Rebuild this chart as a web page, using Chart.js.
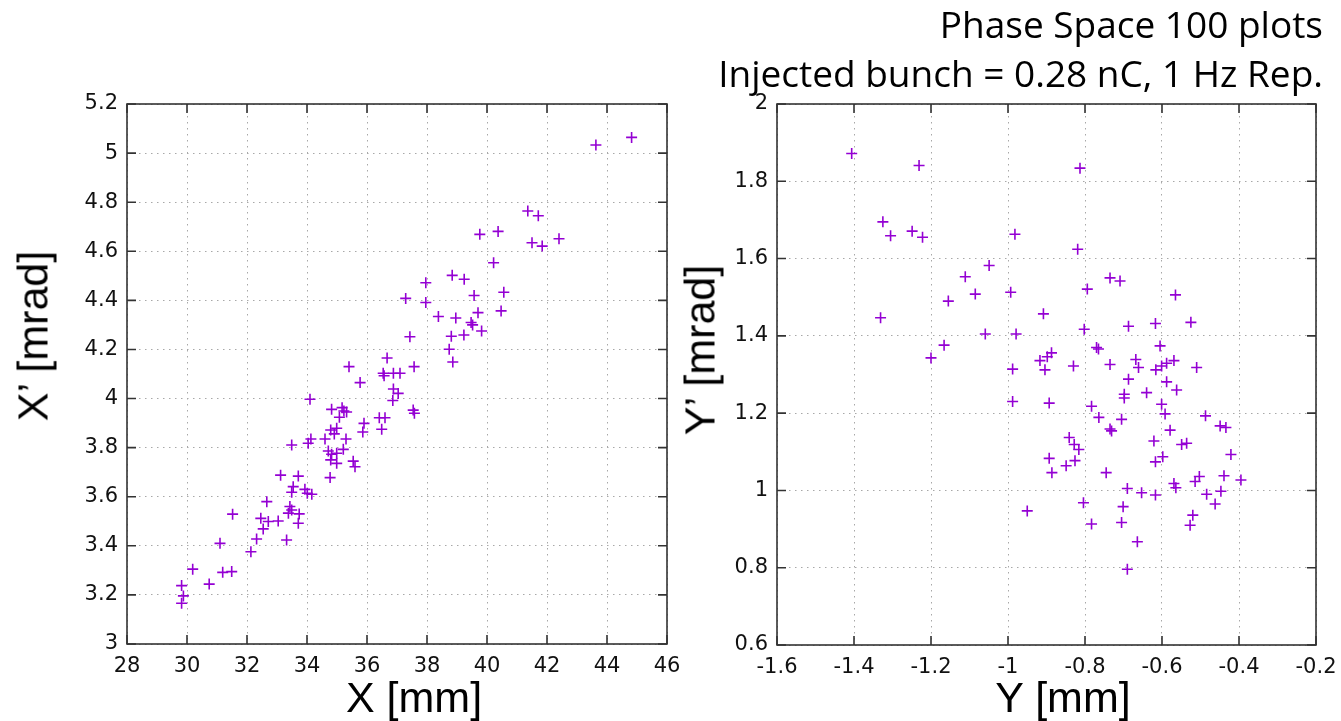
<!DOCTYPE html>
<html>
<head>
<meta charset="utf-8">
<script src="https://cdn.jsdelivr.net/npm/chart.js@4.4.1/dist/chart.umd.min.js"></script>
<style>
  html, body { margin: 0; padding: 0; background: #fff; }
  body { width: 1341px; height: 721px; position: relative; overflow: hidden; }
  .box { position: absolute; top: 0; height: 721px; }
  .txt { position: absolute; white-space: nowrap; color: #000; }
  .title { right: 18px; font-family: "Open Sans", sans-serif; font-size: 37px; line-height: 49px; }
  .axis { font-family: "Liberation Sans", Arial, sans-serif; font-size: 43px; line-height: 43px;
          transform: translate(-50%, -50%); }
  .axis.rot { transform: translate(-50%, -50%) rotate(-90deg); }
</style>
</head>
<body>
<div class="box" style="left:0;width:680px"><canvas id="chartX" width="680" height="721"></canvas></div>
<div class="box" style="left:680px;width:661px"><canvas id="chartY" width="661" height="721"></canvas></div>

<div class="txt title" style="top:-1px">Phase Space 100 plots</div>
<div class="txt title" style="top:48px">Injected bunch = 0.28 nC, 1 Hz Rep.</div>
<div class="txt axis" style="left:414px;top:697px">X [mm]</div>
<div class="txt axis rot" style="left:33px;top:336px">X’ [mrad]</div>
<div class="txt axis" style="left:1063px;top:697px">Y [mm]</div>
<div class="txt axis rot" style="left:700px;top:350px">Y’ [mrad]</div>

<script>
// horizontal plane: X [mm] and X' [mrad]
const xPos = [
  44.82, 43.63, 41.36, 41.71, 39.76, 40.37, 41.50, 41.84, 42.40, 40.22,
  38.84, 39.24, 37.96, 37.29, 37.96, 39.57, 40.56, 40.47, 39.70, 38.38,
  38.96, 39.47, 39.52, 39.82, 39.23, 38.81, 37.43, 38.74, 38.86, 36.67,
  37.57, 36.54, 36.57, 36.88, 37.10, 36.88, 37.04, 36.86, 37.54, 37.58,
  36.41, 36.60, 36.49, 35.40, 35.77, 34.10, 34.82, 35.17, 35.23, 35.32,
  35.08, 35.90, 35.86, 34.79, 34.99, 34.91, 34.60, 35.30, 34.13, 34.04,
  33.49, 34.71, 34.82, 34.99, 35.21, 34.79, 34.99, 35.54, 35.60, 34.77,
  33.12, 33.71, 33.93, 34.01, 34.16, 33.54, 33.49, 33.43, 33.49, 33.38,
  33.74, 33.71, 33.32, 32.66, 32.46, 32.71, 33.04, 32.54, 32.32, 32.13,
  31.52, 31.10, 31.19, 31.49, 30.74, 30.19, 29.82, 29.88, 29.82
];
const xAngle = [
  5.064, 5.033, 4.764, 4.745, 4.669, 4.681, 4.635, 4.621, 4.651, 4.553,
  4.502, 4.486, 4.472, 4.408, 4.391, 4.420, 4.433, 4.357, 4.350, 4.334,
  4.328, 4.310, 4.300, 4.275, 4.259, 4.254, 4.252, 4.201, 4.149, 4.165,
  4.130, 4.103, 4.093, 4.103, 4.103, 4.039, 4.021, 3.992, 3.953, 3.940,
  3.922, 3.922, 3.875, 4.130, 4.065, 3.997, 3.956, 3.963, 3.949, 3.945,
  3.924, 3.899, 3.864, 3.872, 3.879, 3.856, 3.835, 3.835, 3.835, 3.818,
  3.811, 3.786, 3.773, 3.777, 3.793, 3.750, 3.736, 3.745, 3.722, 3.678,
  3.688, 3.684, 3.630, 3.614, 3.610, 3.641, 3.618, 3.560, 3.546, 3.533,
  3.530, 3.492, 3.424, 3.580, 3.512, 3.499, 3.501, 3.469, 3.428, 3.376,
  3.529, 3.410, 3.292, 3.295, 3.244, 3.305, 3.238, 3.196, 3.166
];

// vertical plane: Y [mm] and Y' [mrad]
const yPos = [
  -1.406, -1.231, -1.325, -1.305, -1.249, -1.222, -0.982, -1.049, -1.111, -1.085,
  -1.155, -0.993, -1.331, -1.059, -0.979, -1.166, -1.200, -0.988, -0.988, -0.950,
  -0.813, -0.819, -0.735, -0.709, -0.794, -0.565, -0.908, -0.525, -0.617, -0.687,
  -0.802, -0.605, -0.770, -0.765, -0.887, -0.898, -0.917, -0.904, -0.830, -0.735,
  -0.668, -0.661, -0.569, -0.588, -0.601, -0.616, -0.510, -0.687, -0.588, -0.562,
  -0.640, -0.698, -0.698, -0.893, -0.783, -0.601, -0.592, -0.764, -0.705, -0.487,
  -0.449, -0.434, -0.735, -0.731, -0.579, -0.841, -0.828, -0.816, -0.621, -0.549,
  -0.536, -0.421, -0.893, -0.826, -0.849, -0.598, -0.617, -0.745, -0.886, -0.503,
  -0.514, -0.439, -0.395, -0.569, -0.564, -0.690, -0.653, -0.617, -0.447, -0.484,
  -0.804, -0.462, -0.701, -0.520, -0.527, -0.783, -0.705, -0.664, -0.690
];
const yAngle = [
  1.872, 1.841, 1.695, 1.659, 1.671, 1.655, 1.663, 1.582, 1.553, 1.508,
  1.490, 1.513, 1.447, 1.405, 1.405, 1.376, 1.343, 1.314, 1.230, 0.947,
  1.834, 1.624, 1.550, 1.542, 1.521, 1.506, 1.457, 1.435, 1.432, 1.425,
  1.417, 1.374, 1.370, 1.366, 1.356, 1.346, 1.336, 1.312, 1.322, 1.326,
  1.339, 1.318, 1.336, 1.329, 1.322, 1.312, 1.318, 1.288, 1.281, 1.260,
  1.253, 1.249, 1.239, 1.226, 1.218, 1.223, 1.198, 1.189, 1.184, 1.193,
  1.167, 1.163, 1.159, 1.154, 1.156, 1.137, 1.119, 1.106, 1.128, 1.119,
  1.122, 1.093, 1.083, 1.077, 1.064, 1.087, 1.074, 1.046, 1.046, 1.036,
  1.023, 1.038, 1.027, 1.018, 1.007, 1.005, 0.994, 0.988, 0.998, 0.990,
  0.968, 0.965, 0.958, 0.936, 0.910, 0.913, 0.917, 0.867, 0.796
];

// tick values
const xTicks = [28, 30, 32, 34, 36, 38, 40, 42, 44, 46];
const xpTicks = [3, 3.2, 3.4, 3.6, 3.8, 4, 4.2, 4.4, 4.6, 4.8, 5, 5.2];
const yTicks = [-1.6, -1.4, -1.2, -1, -0.8, -0.6, -0.4, -0.2];
const ypTicks = [0.6, 0.8, 1, 1.2, 1.4, 1.6, 1.8, 2];

const PURPLE = "#9400d3";

// gnuplot-like frame with inward tick marks on all four sides
const frameTicks = {
  id: "frameTicks",
  afterDraw(chart) {
    const { ctx, chartArea: a, scales } = chart;
    const len = 9;
    ctx.save();
    ctx.strokeStyle = "#333";
    ctx.lineWidth = 1.6;
    ctx.beginPath();
    scales.x.ticks.forEach(function (t) {
      const px = scales.x.getPixelForValue(t.value);
      ctx.moveTo(px, a.bottom);
      ctx.lineTo(px, a.bottom - len);
      ctx.moveTo(px, a.top);
      ctx.lineTo(px, a.top + len);
    });
    scales.y.ticks.forEach(function (t) {
      const py = scales.y.getPixelForValue(t.value);
      ctx.moveTo(a.left, py);
      ctx.lineTo(a.left + len, py);
      ctx.moveTo(a.right, py);
      ctx.lineTo(a.right - len, py);
    });
    ctx.stroke();
    ctx.strokeRect(a.left, a.top, a.right - a.left, a.bottom - a.top);
    ctx.restore();
  },
};

function makeScale(min, max, tickVals, size, horizontal) {
  return {
    type: "linear",
    min: min,
    max: max,
    afterBuildTicks: function (s) {
      s.ticks = tickVals.map(function (v) { return { value: v }; });
    },
    afterFit: function (s) {
      if (horizontal) s.height = size;
      else s.width = size;
      s.paddingLeft = 0;
      s.paddingRight = 0;
      s.paddingTop = 0;
      s.paddingBottom = 0;
    },
    grid: {
      color: "#a8a8a8",
      lineWidth: 1,
      drawTicks: false,
    },
    border: {
      display: false,
      dash: [1.5, 4.5],
    },
    ticks: {
      color: "#111",
      padding: horizontal ? 10 : 9,
      font: { family: "DejaVu Sans", size: 21 },
      callback: function (value) {
        return String(+value.toFixed(1));
      },
    },
  };
}

function makeChart(id, xs, ys, xScale, yScale, padRight) {
  const points = xs.map(function (v, i) { return { x: v, y: ys[i] }; });
  return new Chart(document.getElementById(id), {
    type: "scatter",
    data: {
      datasets: [
        {
          data: points,
          pointStyle: "cross",
          pointRadius: 5.5,
          pointHoverRadius: 5.5,
          borderWidth: 1.6,
          borderColor: PURPLE,
          backgroundColor: PURPLE,
        },
      ],
    },
    options: {
      responsive: false,
      animation: false,
      devicePixelRatio: 1,
      layout: { padding: { left: 0, top: 104, right: padRight, bottom: 0 } },
      plugins: {
        legend: { display: false },
        title: { display: false },
        tooltip: { enabled: false },
      },
      scales: { x: xScale, y: yScale },
    },
    plugins: [frameTicks],
  });
}

makeChart("chartX", xPos, xAngle,
  makeScale(28, 46, xTicks, 77, true),
  makeScale(3, 5.2, xpTicks, 127, false), 13);

makeChart("chartY", yPos, yAngle,
  makeScale(-1.6, -0.2, yTicks, 76, true),
  makeScale(0.6, 2, ypTicks, 97, false), 25);
</script>
</body>
</html>
